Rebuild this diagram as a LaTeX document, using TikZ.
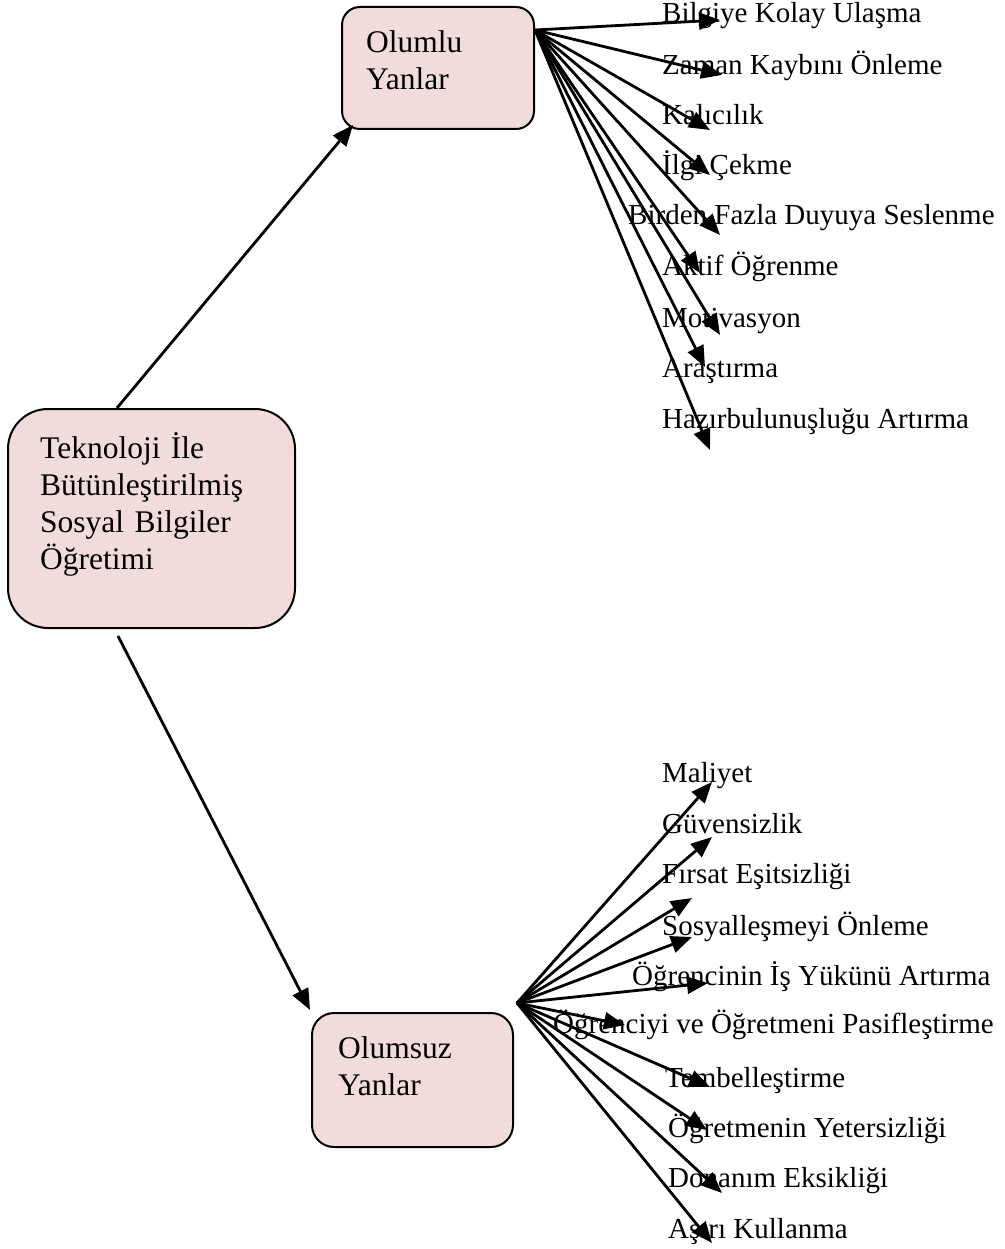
\documentclass[tikz,border=0pt]{standalone}
\usepackage{fontspec}
\setmainfont{Liberation Serif}
\usetikzlibrary{arrows.meta}
\definecolor{boxpink}{HTML}{F2DCDB}
\begin{document}
\begin{tikzpicture}[x=1pt,y=-1pt,
  box/.style={draw=black, line width=2pt, fill=boxpink, inner sep=0pt},
  boxtext/.style={anchor=base west, inner sep=0pt, align=left, text width=#1, font=\fontsize{31.5}{37}\selectfont},
  lbl/.style={anchor=base west, inner sep=0pt, font=\fontsize{29}{35}\selectfont},
  arr/.style={line width=2.8pt, -{Triangle[length=21pt,width=17pt]}}]
\useasboundingbox (0,0) rectangle (1004,1249);

% boxes
\node[box, rounded corners=40pt, minimum width=287pt, minimum height=219pt] (main) at (151.5,518.5) {};
\node[box, rounded corners=18pt, minimum width=192pt, minimum height=122pt] (pos) at (438,68) {};
\node[box, rounded corners=22pt, minimum width=201pt, minimum height=134pt] (neg) at (412.5,1080) {};

\node[boxtext=250pt] (maintext) at (40,458) {Teknoloji İle\\Bütünleştirilmiş\\Sosyal Bilgiler\\Öğretimi};
\node[boxtext=150pt] (postext) at (366,53) {Olumlu\\Yanlar};
\node[boxtext=150pt] (negtext) at (338,1058) {Olumsuz\\Yanlar};

% labels (upper)
\node[lbl] (p1) at (662,23) {Bilgiye Kolay Ulaşma};
\node[lbl] (p2) at (662,75) {Zaman Kaybını Önleme};
\node[lbl] (p3) at (662,125) {Kalıcılık};
\node[lbl] (p4) at (662,175) {İlgi Çekme};
\node[lbl] (p5) at (628,225) {Birden Fazla Duyuya Seslenme};
\node[lbl] (p6) at (662,275) {Aktif Öğrenme};
\node[lbl] (p7) at (662,327) {Motivasyon};
\node[lbl] (p8) at (662,377) {Araştırma};
\node[lbl] (p9) at (662,428) {Hazırbulunuşluğu Artırma};

% labels (lower)
\node[lbl] (n1) at (662,782) {Maliyet};
\node[lbl] (n2) at (662,833) {Güvensizlik};
\node[lbl] (n3) at (662,883) {Fırsat Eşitsizliği};
\node[lbl] (n4) at (662,935) {Sosyalleşmeyi Önleme};
\node[lbl] (n5) at (632,985) {Öğrencinin İş Yükünü Artırma};
\node[lbl] (n6) at (553,1033) {Öğrenciyi ve Öğretmeni Pasifleştirme};
\node[lbl] (n7) at (665,1087) {Tembelleştirme};
\node[lbl] (n8) at (668,1137) {Öğretmenin Yetersizliği};
\node[lbl] (n9) at (668,1187) {Donanım Eksikliği};
\node[lbl] (n10) at (668,1238) {Aşırı Kullanma};

% connector ends
\coordinate (mtop) at (117,408);
\coordinate (mbot) at (118,636);
\coordinate (posin) at (353,125);
\coordinate (negin) at (310,1010);
\coordinate (po) at (535,30);
\coordinate (no) at (517,1003);

\coordinate (pt1) at (720,20);
\coordinate (pt2) at (722,75);
\coordinate (pt3) at (710,130);
\coordinate (pt4) at (710,175);
\coordinate (pt5) at (720,235);
\coordinate (pt6) at (700,273);
\coordinate (pt7) at (720,335);
\coordinate (pt8) at (705,367);
\coordinate (pt9) at (710,450);

\coordinate (nt1) at (712,782);
\coordinate (nt2) at (712,837);
\coordinate (nt3) at (692,898);
\coordinate (nt4) at (692,937);
\coordinate (nt5) at (708,983);
\coordinate (nt6) at (625,1025);
\coordinate (nt7) at (710,1087);
\coordinate (nt8) at (707,1130);
\coordinate (nt9) at (722,1193);
\coordinate (nt10) at (712,1243);

% main connectors
\draw[arr] (mtop) -- (posin);
\draw[arr] (mbot) -- (negin);

% fans
\foreach \i in {1,...,9} {\draw[arr] (po) -- (pt\i);}
\foreach \i in {1,...,10} {\draw[arr] (no) -- (nt\i);}
\end{tikzpicture}
\end{document}
